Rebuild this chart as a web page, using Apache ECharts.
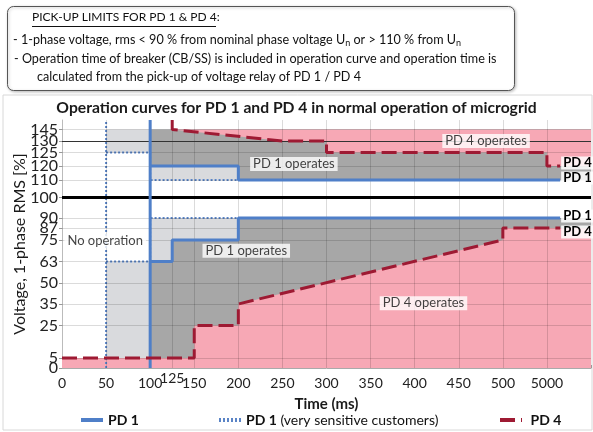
<!DOCTYPE html>
<html><head><meta charset="utf-8">
<script src="https://cdn.jsdelivr.net/npm/echarts@6/dist/echarts.min.js"></script>
<style>html,body{margin:0;padding:0;background:#fff}#c{width:593px;height:432px}</style>
</head><body><div id="c"></div>
<script>
// ---------- axes ----------
const xTickVals   = [0, 50, 100, 125, 150, 200, 250, 300, 350, 400, 450, 500, 550];
const xTickLabels = ['0','50','100','125','150','200','250','300','350','400','450','500','5000'];
const xGridVals   = [50, 100, 125, 150, 200, 250, 300, 350, 400, 450, 500, 550];
const yTickLabels = ['0','5','25','35','50','63','75','87','90','100','110','120','125','130','145'];
// non-linear voltage scale of the original chart: level -> axis position
const yScaleVolt = [0, 5, 25, 35, 50, 63, 75, 87, 90, 100, 110, 120, 125, 130, 145, 152];
const yScalePos  = [0, 10, 42.5, 64, 85, 106.5, 128, 140, 150, 170.5, 188, 202, 215.5, 227, 238.5, 248];

// ---------- data (time ms on the chart's time axis, voltage %) ----------
const pd1TripTime  = [100, 100];            const pd1TripVolt  = [0, 152];
const pd1OverTime  = [100, 200, 200, 565];  const pd1OverVolt  = [120, 120, 110, 110];
const pd1UnderTime = [100, 125, 125, 200, 200, 565];
const pd1UnderVolt = [63, 63, 75, 75, 90, 90];

const pd1sTripTime  = [50, 50];             const pd1sTripVolt  = [0, 152];
const pd1sOverTime  = [50, 100, 100, 200];  const pd1sOverVolt  = [125, 125, 110, 110];
const pd1sUnderTime = [50, 100, 100, 200];  const pd1sUnderVolt = [63, 63, 90, 90];

const pd4OverTime  = [125, 125, 250, 300, 300, 550, 550, 565];
const pd4OverVolt  = [152, 145, 130, 130, 125, 125, 120, 120];
const pd4UnderTime = [0, 150, 150, 200, 200, 500, 500, 565];
const pd4UnderVolt = [5, 5, 25, 25, 35, 75, 87, 87];

const noteText = ['No operation', 'PD 1 operates', 'PD 1 operates', 'PD 4 operates', 'PD 4 operates'];
const noteTime = [49, 209, 263, 481, 410];
const noteVolt = [74.5, 69, 120.7, 130, 35.5];

// ---------- helpers ----------
const X_END = 600, V_TOP = 145;
function yPos(v) {
  for (let i = 0; i < yScaleVolt.length - 1; i++) {
    const a = yScaleVolt[i], b = yScaleVolt[i + 1];
    if (v <= b || i === yScaleVolt.length - 2) {
      return yScalePos[i] + (v - a) / (b - a) * (yScalePos[i + 1] - yScalePos[i]);
    }
  }
}
function pts(t, v) { return t.map((x, i) => [x, v[i]]); }
function toAxis(p) { return p.map(q => [q[0], yPos(q[1])]); }
const tickPos = yTickLabels.map(l => yPos(+l));
// split the crowded y labels over two overlaid axes so none gets hidden
const tickPosA = tickPos.filter((p, i) => i % 2 === 0);
const tickPosB = tickPos.filter((p, i) => i % 2 === 1);
function yLabel(v) {
  let best = 0;
  tickPos.forEach((p, i) => { if (Math.abs(p - v) < Math.abs(tickPos[best] - v)) best = i; });
  return yTickLabels[best];
}

const F = 'Lato, "Open Sans", sans-serif';
const BLUE = '#4f7fc8', RED = '#9e1a33';

function fill(poly, color, z) {
  const P = toAxis(poly);
  return {
    type: 'custom', silent: true, z: z, data: [[0, 0]], animation: false,
    renderItem: (params, api) => ({
      type: 'polygon',
      shape: { points: P.map(p => api.coord(p)) },
      style: { fill: color }
    })
  };
}
function line(name, t, v, style, z, endText, endOffset) {
  const s = {
    type: 'line', name: name, data: toAxis(pts(t, v)), symbol: 'none', z: z,
    animation: false, lineStyle: style, itemStyle: { color: style.color }
  };
  if (endText) {
    s.endLabel = { show: true, formatter: endText, distance: 1, offset: endOffset || [0, 0],
      fontFamily: F, fontWeight: 'bold', fontSize: 13, color: '#000',
      backgroundColor: 'rgba(255,255,255,0.85)', padding: [0, 2] };
  }
  return s;
}

const pd1Style  = { color: BLUE, width: 3, type: 'solid' };
const pd1sStyle = { color: '#5a84c6', width: 2, type: [2, 2] };
const pd4Style  = { color: RED, width: 3, type: [15, 6] };

// fill polygons derived from the curves
const lightTop = [[pd1sTripTime[0], V_TOP], ...pts(pd1sOverTime, pd1sOverVolt), [pd1sOverTime[pd1sOverTime.length - 1], V_TOP]];
const darkTop = [[pd1TripTime[0], V_TOP], ...pts(pd1OverTime, pd1OverVolt), [X_END, pd1OverVolt[pd1OverVolt.length - 1]], [X_END, V_TOP]];
const pinkTop = [...pts(pd4OverTime, pd4OverVolt).filter(p => p[1] <= V_TOP), [X_END, pd4OverVolt[pd4OverVolt.length - 1]], [X_END, V_TOP]];
const lightBot = [[pd1sTripTime[0], 0], ...pts(pd1sUnderTime, pd1sUnderVolt), [pd1sUnderTime[pd1sUnderTime.length - 1], 0]];
const darkBot = [[pd1TripTime[0], 0], ...pts(pd1UnderTime, pd1UnderVolt), [X_END, pd1UnderVolt[pd1UnderVolt.length - 1]], [X_END, 0]];
const pinkBot = [[0, 0], ...pts(pd4UnderTime, pd4UnderVolt), [X_END, pd4UnderVolt[pd4UnderVolt.length - 1]], [X_END, 0]];

const LIGHT = '#d9dadd', DARK = '#a7a7a7', PINK = '#f7a8b5';

const gridLines = [];
yTickLabels.slice(1).forEach(l => gridLines.push({ yAxis: yPos(+l) }));
xGridVals.forEach(x => gridLines.push({ xAxis: x }));

const series = [
  fill(lightTop, LIGHT, 1), fill(darkTop, DARK, 1.1), fill(pinkTop, PINK, 1.2),
  fill(lightBot, LIGHT, 1), fill(darkBot, DARK, 1.1), fill(pinkBot, PINK, 1.2),
  { type: 'line', name: 'grid', data: [], z: 2, silent: true, animation: false,
    markLine: { silent: true, symbol: ['none', 'none'], label: { show: false }, animation: false,
      lineStyle: { color: 'rgba(0,0,0,0.14)', width: 1, type: 'solid' }, data: gridLines } },
  { type: 'line', name: 'ref', data: [], z: 3, silent: true, animation: false,
    markLine: { silent: true, symbol: ['none', 'none'], label: { show: false }, animation: false,
      data: [
        { yAxis: yPos(130), lineStyle: { color: '#333', width: 1.2, type: 'solid' } },
        { yAxis: yPos(100), lineStyle: { color: '#000', width: 3, type: 'solid' } }
      ] } },
  line('PD 1 (very sensitive customers)', pd1sTripTime, pd1sTripVolt, pd1sStyle, 4),
  line('PD 1 (very sensitive customers)', pd1sOverTime, pd1sOverVolt, pd1sStyle, 4),
  line('PD 1 (very sensitive customers)', pd1sUnderTime, pd1sUnderVolt, pd1sStyle, 4),
  line('PD 1', pd1TripTime, pd1TripVolt, pd1Style, 5),
  line('PD 1', pd1OverTime, pd1OverVolt, pd1Style, 5, 'PD 1', [0, -2]),
  line('PD 1', pd1UnderTime, pd1UnderVolt, pd1Style, 5, 'PD 1', [0, -2]),
  line('PD 4', pd4OverTime, pd4OverVolt, pd4Style, 6, 'PD 4', [0, -3]),
  line('PD 4', pd4UnderTime, pd4UnderVolt, pd4Style, 6, 'PD 4', [0, 4]),
  { type: 'scatter', name: 'notes', z: 7, silent: true, animation: false, symbolSize: 0,
    data: noteText.map((t, i) => ({ value: [noteTime[i], yPos(noteVolt[i])], name: t })),
    label: { show: true, position: 'inside', formatter: p => p.name, fontFamily: F, fontSize: 13,
      color: '#111', backgroundColor: '#fff', padding: [1, 3, 0, 3] } }
];

const legendBase = { top: 408, itemWidth: 22, itemHeight: 12, itemGap: 0, selectedMode: false,
  itemStyle: { opacity: 0, borderWidth: 0 },
  textStyle: { fontFamily: F, fontSize: 14, color: '#111',
    rich: { b: { fontFamily: F, fontSize: 14, fontWeight: 'bold', color: '#111' },
            n: { fontFamily: F, fontSize: 14, color: '#111' } } },
  lineStyle: { width: 4 } };

const yLabelStyle = { hideOverlap: false, showMinLabel: true, showMaxLabel: true, margin: 4,
  fontFamily: F, fontSize: 16, color: '#222', formatter: yLabel };

const HF = 12.6;
const option = {
  backgroundColor: '#fff',
  animation: false,
  title: { text: 'Operation curves for PD 1 and PD 4 in normal operation of microgrid', left: 'center', top: 95,
    textStyle: { fontFamily: F, fontSize: 15.7, fontWeight: 'bold', color: '#1a1a1a' } },
  grid: { left: 62, right: 2, top: 120, bottom: 64, containLabel: false, outerBoundsMode: 'none' },
  xAxis: {
    type: 'value', min: 0, max: X_END, interval: 25,
    name: 'Time (ms)', nameLocation: 'middle', nameGap: 29, nameMoveOverlap: false,
    nameTextStyle: { fontFamily: F, fontSize: 15, fontWeight: 'bold', color: '#1a1a1a' },
    axisLine: { lineStyle: { color: '#aaa' } },
    axisTick: { inside: true, length: 3, lineStyle: { color: '#999' } },
    splitLine: { show: false },
    axisLabel: { customValues: xTickVals, hideOverlap: false, margin: 5, fontFamily: F, fontSize: 14, color: '#222', lineHeight: 20,
      formatter: v => { const i = xTickVals.indexOf(v); if (i < 0) return ''; const s = xTickLabels[i]; return v === 125 ? '{r|' + s + '}' : s; },
      rich: { r: { fontFamily: F, fontSize: 14, color: '#222', lineHeight: 11 } } }
  },
  yAxis: [{
    type: 'value', min: 0, max: 248,
    name: 'Voltage, 1-phase RMS [%]', nameLocation: 'middle', nameGap: 34, nameRotate: 90, nameMoveOverlap: false,
    nameTextStyle: { fontFamily: F, fontSize: 16, color: '#1a1a1a' },
    axisLine: { show: true, lineStyle: { color: '#bbb' } },
    axisTick: { show: true, customValues: tickPos, length: 3, lineStyle: { color: '#999' } },
    splitLine: { show: false },
    axisLabel: Object.assign({ customValues: tickPosA }, yLabelStyle)
  }, {
    type: 'value', min: 0, max: 248, position: 'left', offset: 0,
    axisLine: { show: false }, axisTick: { show: false }, splitLine: { show: false },
    axisLabel: Object.assign({ customValues: tickPosB }, yLabelStyle)
  }],
  legend: [
    Object.assign({}, legendBase, { left: 74, data: ['PD 1'], formatter: () => '{b|PD 1}' }),
    Object.assign({}, legendBase, { left: 212, data: ['PD 1 (very sensitive customers)'], formatter: () => '{b|PD 1}{n| (very sensitive customers)}' }),
    Object.assign({}, legendBase, { left: 493, data: ['PD 4'], formatter: () => ' {b|PD 4}' })
  ],
  graphic: [
    { type: 'rect', z: -1, shape: { x: 3, y: 95, width: 589, height: 335 }, style: { fill: 'none', stroke: '#d8d8d8', lineWidth: 1 } },
    { type: 'rect', shape: { x: 7.5, y: 6.5, width: 507, height: 84, r: 6 },
      style: { fill: '#fff', stroke: '#555', lineWidth: 1, shadowBlur: 3, shadowColor: 'rgba(0,0,0,0.25)', shadowOffsetX: 1, shadowOffsetY: 1 } },
    { type: 'text', left: 32, top: 11, style: { text: 'PICK-UP LIMITS FOR PD 1 & PD 4:', fontFamily: F, fontSize: 12, fill: '#111' } },
    { type: 'line', shape: { x1: 32, y1: 26.5, x2: 216, y2: 26.5 }, style: { stroke: '#111', lineWidth: 1 } },
    { type: 'text', left: 13, top: 33, style: { text: '- 1-phase voltage, rms < 90 % from nominal phase voltage U{s|n} or > 110 % from U{s|n}',
      fontFamily: F, fontSize: HF, fill: '#111', rich: { s: { fontFamily: F, fontSize: 9, fill: '#111', padding: [8, 0, 0, 0] } } } },
    { type: 'text', left: 14, top: 52, style: { text: '- Operation time of breaker (CB/SS) is included in operation curve and operation time is', fontFamily: F, fontSize: HF, fill: '#111' } },
    { type: 'text', left: 37, top: 70, style: { text: 'calculated from the pick-up of voltage relay of PD 1 / PD 4', fontFamily: F, fontSize: HF, fill: '#111' } }
  ],
  series: series
};

const chart = echarts.init(document.getElementById('c'), null, { renderer: 'canvas' });
chart.setOption(option);
</script>
</body></html>
